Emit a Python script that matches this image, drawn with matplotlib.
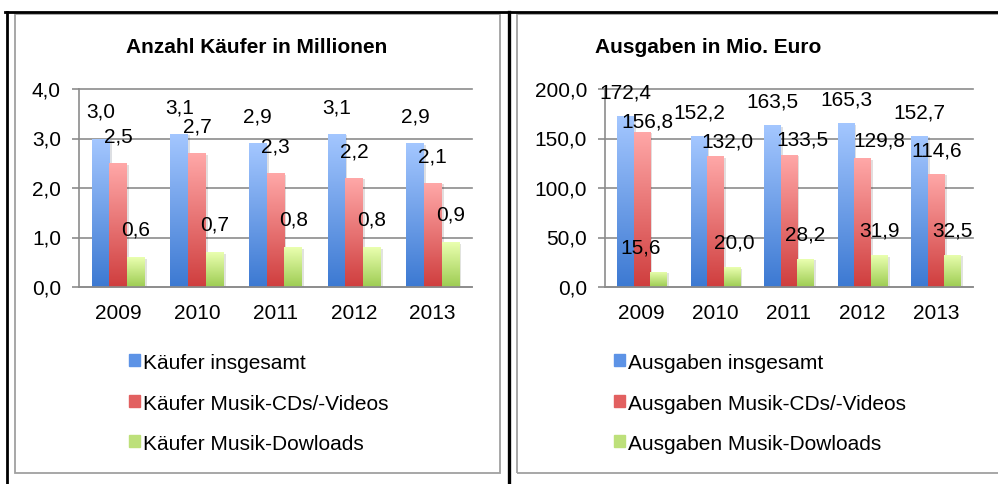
import matplotlib
matplotlib.use("Agg")
import matplotlib.pyplot as plt
import matplotlib.patheffects as pe
from matplotlib.colors import LinearSegmentedColormap
from matplotlib.patches import Rectangle
from matplotlib.lines import Line2D
import numpy as np

plt.rcParams['font.family'] = ['Liberation Sans', 'DejaVu Sans']

# data
years = ['2009', '2010', '2011', '2012', '2013']

kaeufer_insgesamt = [3.0, 3.1, 2.9, 3.1, 2.9]
kaeufer_cds = [2.5, 2.7, 2.3, 2.2, 2.1]
kaeufer_downloads = [0.6, 0.7, 0.8, 0.8, 0.9]

ausgaben_insgesamt = [172.4, 152.2, 163.5, 165.3, 152.7]
ausgaben_cds = [156.8, 132.0, 133.5, 129.8, 114.6]
ausgaben_downloads = [15.6, 20.0, 28.2, 31.9, 32.5]

left_title = 'Anzahl Käufer in Millionen'
right_title = 'Ausgaben in Mio. Euro'
left_labels = ['Käufer insgesamt', 'Käufer Musik-CDs/-Videos', 'Käufer Musik-Dowloads']
right_labels = ['Ausgaben insgesamt', 'Ausgaben Musik-CDs/-Videos', 'Ausgaben Musik-Dowloads']
left_ticks = [0, 1, 2, 3, 4]
right_ticks = [0, 50, 100, 150, 200]

# styling
W, H = 998, 484
grads = [('#3c79d2', '#a4c7ff'), ('#cf3e3e', '#ffa8a8'), ('#9dcc52', '#eaffb0')]
legend_cols = ['#5d93e6', '#e26060', '#bde07a']
grid_col = '#8c8c8c'
FS = 15


def fx(px):
    return px / W


def fy(py):
    return 1 - py / H


def px2pt(px):
    return px * 72 / 100


def de(v):
    return f'{v:.1f}'.replace('.', ',')


fig = plt.figure(figsize=(W / 100, H / 100), dpi=100)


def draw_panel(ax, series, ticks, label_offsets):
    x = np.arange(len(years))
    w = 0.225
    top = ticks[-1]
    for i, vals in enumerate(series):
        cmap = LinearSegmentedColormap.from_list('g', grads[i])
        bars = ax.bar(x + (i - 1) * w, vals, w, color=legend_cols[i], zorder=2,
                      path_effects=[pe.SimplePatchShadow(offset=(1.5, -1), alpha=0.15),
                                    pe.Normal()])
        for b in bars:
            x0, h = b.get_x(), b.get_height()
            im = ax.imshow(np.linspace(0, 1, 256).reshape(-1, 1), cmap=cmap, origin='lower',
                           extent=[x0, x0 + w, 0, h], aspect='auto', zorder=2.5)
            im.set_clip_path(b)
        for j, (xi, v) in enumerate(zip(x + (i - 1) * w, vals)):
            dx, dy = label_offsets[i][j]
            ax.annotate(de(v), (xi, v), xytext=(px2pt(dx), px2pt(dy)),
                        textcoords='offset points', ha='center', va='center',
                        fontsize=FS, zorder=5)
    ax.set_xlim(-0.5, len(years) - 0.5)
    ax.set_ylim(0, top)
    ax.set_facecolor('none')
    ax.set_xticks(x)
    ax.set_xticklabels(years)
    ax.set_yticks(ticks)
    ax.set_yticklabels([de(t) for t in ticks])
    ax.yaxis.grid(True, color=grid_col, lw=1.2)
    for gl in ax.get_ygridlines():
        gl.set_clip_on(False)
    ax.set_axisbelow(True)
    for s in ['top', 'right']:
        ax.spines[s].set_visible(False)
    for s in ['left', 'bottom']:
        ax.spines[s].set_color(grid_col)
        ax.spines[s].set_linewidth(1.2)
    ax.tick_params(axis='y', length=px2pt(7), color=grid_col, width=1.2,
                   pad=px2pt(11), labelsize=FS)
    ax.tick_params(axis='x', length=0, pad=px2pt(17), labelsize=FS)


# label nudges in pixels (dx, dy) relative to bar top
left_offsets = [[(0, 26)] * 5, [(0, 26)] * 5, [(0, 27)] * 5]
right_offsets = [[(0, 23)] * 5,
                 [(6, 10), (12, 14), (13, 15), (17, 17), (0, 23)],
                 [(-18, 24), (2, 24), (0, 24), (0, 24), (0, 24)]]

ax_l = fig.add_axes([fx(79), fy(287), (472 - 79) / W, (287 - 89) / H])
draw_panel(ax_l, [kaeufer_insgesamt, kaeufer_cds, kaeufer_downloads], left_ticks, left_offsets)

ax_r = fig.add_axes([fx(605), fy(287), (973 - 605) / W, (287 - 89) / H])
draw_panel(ax_r, [ausgaben_insgesamt, ausgaben_cds, ausgaben_downloads], right_ticks, right_offsets)

# titles
fig.text(fx(257), fy(53), left_title, ha='center', va='baseline', fontsize=FS, fontweight='bold')
fig.text(fx(708), fy(53), right_title, ha='center', va='baseline', fontsize=FS, fontweight='bold')

# legends
for labels, sq_x in [(left_labels, 129), (right_labels, 614)]:
    for i, lab in enumerate(labels):
        base = 369 + 40.5 * i
        fig.patches.append(Rectangle((fx(sq_x), fy(base - 3)), 11 / W, 12 / H,
                                     transform=fig.transFigure, color=legend_cols[i]))
        fig.text(fx(sq_x + 14), fy(base), lab, ha='left', va='baseline', fontsize=FS)

# chart borders (gray) and table lines (black)
for x0, x1 in [(15, 500), (517, 1012)]:
    fig.patches.append(Rectangle((fx(x0), fy(473)), (x1 - x0) / W, (473 - 13.5) / H,
                                 transform=fig.transFigure, fill=False,
                                 edgecolor='#a0a0a0', lw=1.3))
fig.add_artist(Line2D([fx(5), fx(998)], [fy(11.5), fy(11.5)], transform=fig.transFigure,
                      color='black', lw=2))
fig.add_artist(Line2D([fx(7), fx(7)], [fy(11.5), fy(484)], transform=fig.transFigure,
                      color='black', lw=2))
fig.add_artist(Line2D([fx(509), fx(509)], [fy(11.5), fy(484)], transform=fig.transFigure,
                      color='black', lw=2.4))

fig.savefig('out.png', dpi=100)
